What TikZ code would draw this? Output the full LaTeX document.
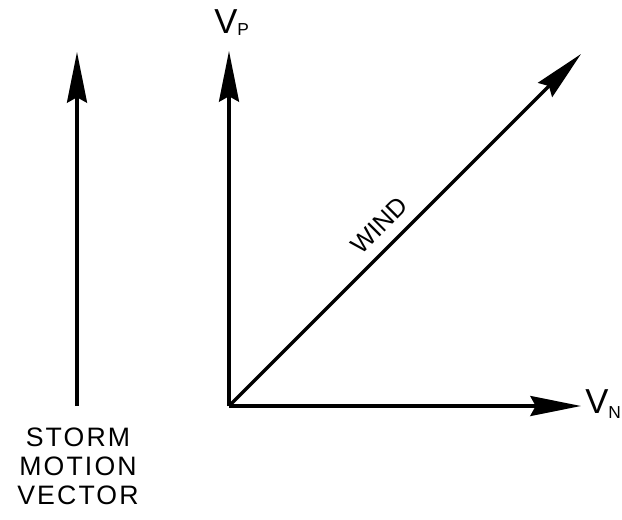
\documentclass[tikz,border=0pt]{standalone}
\usepackage{fontspec}
\setmainfont{Liberation Sans}
\newfontfamily\spacedfont[LetterSpace=8]{Liberation Sans}
\usetikzlibrary{arrows.meta}

\begin{document}
\begin{tikzpicture}[x=0.75pt,y=-0.75pt,
    vec/.style={line width=2.5pt,-{Stealth[length=38pt,width=15pt,inset=4pt]}},
    axislbl/.style={inner sep=0pt,font=\fontsize{26}{28}\selectfont},
    caplbl/.style={inner sep=0pt,align=center,font=\spacedfont\fontsize{20}{21.8}\selectfont}]
  \useasboundingbox (0,0) rectangle (622,519);
  % axes and wind
  \coordinate (origin) at (229,406);
  \coordinate (ptip) at (229,51);
  \coordinate (ntip) at (581,406);
  \coordinate (wtip) at (581,54);
  \draw[vec] (origin) -- (ptip);
  \draw[vec] (origin) -- (ntip);
  \draw[vec] (origin) -- (wtip)
    node[pos=0.47,sloped,above=8pt,inner sep=0pt,font=\fontsize{19}{20}\selectfont] (windlbl) {WIND};
  \node[axislbl,anchor=base west] (vplbl) at (214,33) {V\raisebox{-2pt}{\fontsize{13}{13}\selectfont P}};
  \node[axislbl,anchor=base west] (vnlbl) at (585,413) {V\raisebox{-4pt}{\fontsize{13}{13}\selectfont N}};
  % storm motion
  \coordinate (sbase) at (77,406);
  \coordinate (stip) at (77,52);
  \draw[vec] (sbase) -- (stip);
  \node[caplbl] (stormlbl) at (78,466) {STORM\\MOTION\\VECTOR};
\end{tikzpicture}
\end{document}
